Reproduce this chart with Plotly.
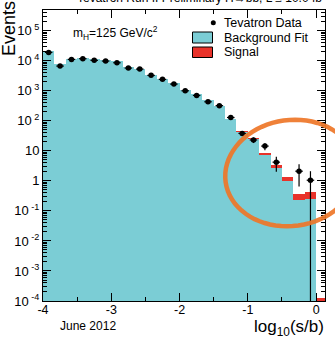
import math
import plotly.graph_objects as go

# ---------------- data ----------------
bin_centers = [-3.917, -3.750, -3.583, -3.417, -3.250, -3.083, -2.917, -2.750, -2.583,
               -2.417, -2.250, -2.083, -1.917, -1.750, -1.583, -1.417, -1.250, -1.083,
               -0.917, -0.750, -0.583, -0.417, -0.250, -0.083, 0.083]
bin_width = 1 / 6

background = [21000, 7600, 11700, 12300, 11100, 10300, 9550, 6300, 5400, 3410, 2510,
              1770, 1050, 760, 480, 310, 111, 41, 24, 7.4, 2.7, 1.0, 0.227, 0.245, 0]
signal = [2.5, 1.35, 3.1, 4.7, 6.2, 8.5, 11.6, 11.2, 14.1, 13.1, 14.1, 14.6, 12.7, 13.5,
          12.5, 11.9, 6.2, 3.4, 2.9, 1.3, 0.70, 0.38, 0.13, 0.19, 0.000125]
data = [19000, 6650, 11100, 11700, 10300, 9770, 8580, 5710, 5290, 3260, 2400, 1670, 1000,
        700, 430, 320, 129, 38, 23, 14.4, 4.2, None, 2.1, 1.05, None]
err_up = [138, 82, 105, 108, 101, 99, 93, 76, 73, 57, 49, 41, 32, 26, 21, 18, 11, 6.2,
          4.8, 3.4, 2.1, 0, 1.5, 1.05, 0]
err_dn = [138, 82, 105, 108, 101, 99, 93, 76, 73, 57, 49, 41, 32, 26, 21, 18, 11, 6.2,
          4.8, 3.9, 2.2, 0, 1.45, 1.0499, 0]

x_tickvals = [-4, -3, -2, -1, 0]
x_ticktext = ["-4", "-3", "-2", "-1", "0"]
y_tickvals = [1e-4, 1e-3, 1e-2, 1e-1, 1, 10, 1e2, 1e3, 1e4, 1e5]
y_ticktext = ["10<sup> -4</sup>", "10<sup> -3</sup>", "10<sup> -2</sup>", "10<sup> -1</sup>",
              "1", "10", "10<sup> 2</sup>", "10<sup> 3</sup>", "10<sup> 4</sup>", "10<sup> 5</sup>"]

BLUE = "#7BCDD5"
RED = "#E8322A"
FONT = "Liberation Sans, Arial, Helvetica, sans-serif"

W, H = 335, 343
ML, MR, MT, MB = 43, 10, 10, 42
PW, PH = W - ML - MR, H - MT - MB


def px(x):
    return (x - ML) / PW


def py(y):
    return (H - MB - y) / PH


# stacked histogram: total (signal on top of background) drawn first, background over it
total = [b + s for b, s in zip(background, signal)]

fig = go.Figure()
fig.add_trace(go.Bar(x=bin_centers, y=total, width=bin_width, marker_color=RED,
                     marker_line_width=0, showlegend=False, name="Signal"))
fig.add_trace(go.Bar(x=bin_centers, y=background, width=bin_width, marker_color=BLUE,
                     marker_line_width=0, showlegend=False, name="Background Fit"))
fig.add_trace(go.Scatter(
    x=bin_centers, y=data, mode="markers", name="Tevatron Data",
    marker=dict(color="black", size=5.5),
    error_y=dict(type="data", symmetric=False, array=err_up, arrayminus=err_dn,
                 width=0, thickness=1.2, color="black"),
    error_x=dict(type="constant", value=0.055, width=0, thickness=1.2, color="black"),
    showlegend=False))

minor_y = [k * 10 ** e for e in range(-4, 6) for k in range(2, 10)]

fig.update_layout(
    width=W, height=H, margin=dict(l=ML, r=MR, t=MT, b=MB),
    barmode="overlay", bargap=0,
    plot_bgcolor="white", paper_bgcolor="white",
    font=dict(family=FONT, color="black", size=12),
    xaxis=dict(range=[-4, 0.13], tickvals=x_tickvals, ticktext=x_ticktext,
               ticks="inside", ticklen=8, tickcolor="black", mirror="allticks",
               showline=True, linecolor="black", linewidth=1, showgrid=False,
               zeroline=False, tickfont=dict(size=12.5), ticklabelstandoff=-3,
               minor=dict(ticks="inside", ticklen=4, tickvals=[-3.5, -2.5, -1.5, -0.5],
                          tickcolor="black", showgrid=False)),
    yaxis=dict(type="log", range=[-4, 5.69], tickvals=y_tickvals, ticktext=y_ticktext,
               ticks="inside", ticklen=8, tickcolor="black", mirror="allticks",
               showline=True, linecolor="black", linewidth=1, showgrid=False,
               zeroline=False, tickfont=dict(size=13),
               minor=dict(ticks="inside", ticklen=4, tickvals=minor_y,
                          tickcolor="black", showgrid=False)),
)

annotations = []
shapes = []

# title (cut at top, as in the reference)
annotations.append(dict(text="Tevatron Run II Preliminary H\u2192b\u0305b, L \u2264 10.0 fb<sup>-1</sup>",
                        x=px(75), y=py(7), xref="paper", yref="paper",
                        xanchor="left", yanchor="bottom", showarrow=False,
                        font=dict(size=12)))
# y title
annotations.append(dict(text="Events", x=px(9), y=py(29), xref="paper", yref="paper",
                        xanchor="center", yanchor="middle", textangle=-90,
                        showarrow=False, font=dict(size=18)))
# x title
annotations.append(dict(text="log<sub>10</sub>(s/b)", x=px(326), y=py(328), xref="paper",
                        yref="paper", xanchor="right", yanchor="middle",
                        showarrow=False, font=dict(size=17)))
annotations.append(dict(text="June 2012", x=px(58), y=py(326), xref="paper", yref="paper",
                        xanchor="left", yanchor="middle", showarrow=False,
                        font=dict(size=12)))
# mass label
annotations.append(dict(text="m<sub>H</sub>=125 GeV/c<sup>2</sup>", x=px(71), y=py(33),
                        xref="paper", yref="paper", xanchor="left", yanchor="middle",
                        showarrow=False, font=dict(size=12)))

# legend
leg_items = [("Tevatron Data", 23), ("Background Fit", 37.5), ("Signal", 52)]
for label, yc in leg_items:
    annotations.append(dict(text=label, x=px(222), y=py(yc), xref="paper", yref="paper",
                            xanchor="left", yanchor="middle", showarrow=False,
                            font=dict(size=12.5)))
shapes.append(dict(type="circle", xref="paper", yref="paper",
                   x0=px(210.8), x1=px(215.8), y0=py(20.2), y1=py(25.2),
                   fillcolor="black", line=dict(width=0)))
shapes.append(dict(type="rect", xref="paper", yref="paper",
                   x0=px(192.5), x1=px(212.5), y0=py(32), y1=py(43),
                   fillcolor=BLUE, line=dict(color="black", width=1)))
shapes.append(dict(type="rect", xref="paper", yref="paper",
                   x0=px(192.5), x1=px(212.5), y0=py(47), y1=py(57.5),
                   fillcolor=RED, line=dict(color="black", width=1)))

# hand-drawn orange ellipse (decoration)
cx, cy, a, b, phi = 291, 173, 66, 53, math.radians(8)
pts = []
for i in range(73):
    t = 2 * math.pi * i / 72
    u, v = a * math.cos(t), b * math.sin(t)
    X = cx + u * math.cos(phi) + v * math.sin(phi)
    Y = cy - u * math.sin(phi) + v * math.cos(phi)
    pts.append((px(X), py(Y)))
path = "M " + " L ".join(f"{x:.4f},{y:.4f}" for x, y in pts) + " Z"
shapes.append(dict(type="path", path=path, xref="paper", yref="paper", layer="above",
                   line=dict(color="rgba(238,118,40,0.92)", width=4.5)))

fig.update_layout(annotations=annotations, shapes=shapes)
fig.write_html("out.html")
